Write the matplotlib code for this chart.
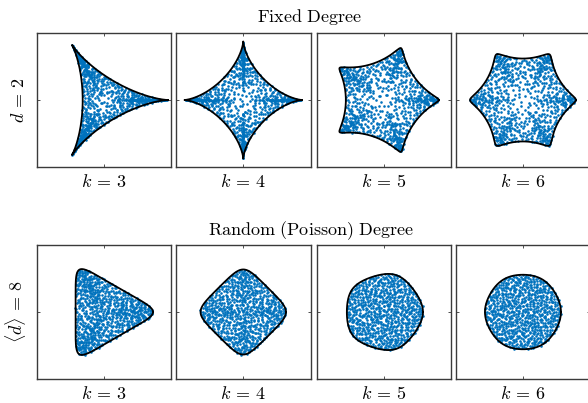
import numpy as np
import matplotlib
matplotlib.use('Agg')
import matplotlib.pyplot as plt

plt.rcParams['mathtext.fontset'] = 'cm'

# число гиперрёбер в ребре
ks = [3, 4, 5, 6]
k_labels = [r'$k\,=\,%d$' % k for k in ks]

# граница спектра: вершинный радиус и вес второй гармоники
fixed_R = [0.948, 0.874, 0.815, 0.787]
fixed_c = [0.5, 1 / 3, 0.18, 0.12]
poisson_R = [0.73, 0.635, 0.58, 0.565]
poisson_c = [0.27, 0.105, 0.025, 0.008]

row_titles = [r'$\mathrm{Fixed\ Degree}$', r'$\mathrm{Random\ (Poisson)\ Degree}$']
row_labels = [r'$d\,=\,2$', r'$\langle d\rangle\,=\,8$']

n_eig = 800
blue = '#0072BD'
fs = 13


def boundary(t, k, R, c):
    z = np.exp(1j * t) + c * np.exp(-1j * (k - 1) * t)
    return R * z / (1 + c)


def halton(n, base, skip):
    out = np.zeros(n)
    for i in range(n):
        j = i + skip
        f, r = 1.0, 0.0
        while j > 0:
            f /= base
            r += f * (j % base)
            j //= base
        out[i] = r
    return out


def eigen_cloud(k, R, c, power, skip, spread=1.0):
    t = 2 * np.pi * halton(n_eig, 2, skip)
    s = spread * halton(n_eig, 3, skip) ** power
    return s * boundary(t, k, R, c)


fig = plt.figure(figsize=(5.88, 4.03), dpi=100)

lefts = np.array([36.7, 176.0, 316.7, 455.7]) / 588
width = 134.5 / 588
bottoms = [(403 - 167) / 403, (403 - 379) / 403]
height = 134 / 403

rows = [(fixed_R, fixed_c, 0.37, 1.0), (poisson_R, poisson_c, 0.5, 1.01)]
tt = np.linspace(0, 2 * np.pi, 600)

for r, (Rs, cs, power, spread) in enumerate(rows):
    for j, k in enumerate(ks):
        ax = fig.add_axes([lefts[j], bottoms[r], width, height])
        z = eigen_cloud(k, Rs[j], cs[j], power, 17 + 131 * (4 * r + j), spread)
        ax.scatter(z.real, z.imag, s=3.5, color=blue, linewidths=0, zorder=2)
        b = boundary(tt, k, Rs[j], cs[j])
        ax.plot(b.real, b.imag, color='k', lw=1.3, zorder=3)
        ax.set_xlim(-1, 1)
        ax.set_ylim(-1, 1)
        ax.set_xticks([0])
        ax.set_yticks([0])
        ax.tick_params(direction='in', length=2.5, width=0.6, top=True, right=True,
                       labelbottom=False, labelleft=False, color='#333333')
        for sp in ax.spines.values():
            sp.set_color('#3a3a3a')
            sp.set_linewidth(1.0)
        ax.set_xlabel(k_labels[j], fontsize=fs, labelpad=4)
        if j == 0:
            ax.set_ylabel(row_labels[r], fontsize=fs, labelpad=6)

fig.text(0.527, 0.958, row_titles[0], ha='center', va='center', fontsize=fs)
fig.text(0.529, 0.4275, row_titles[1], ha='center', va='center', fontsize=fs)

fig.savefig('out.png', dpi=100)
